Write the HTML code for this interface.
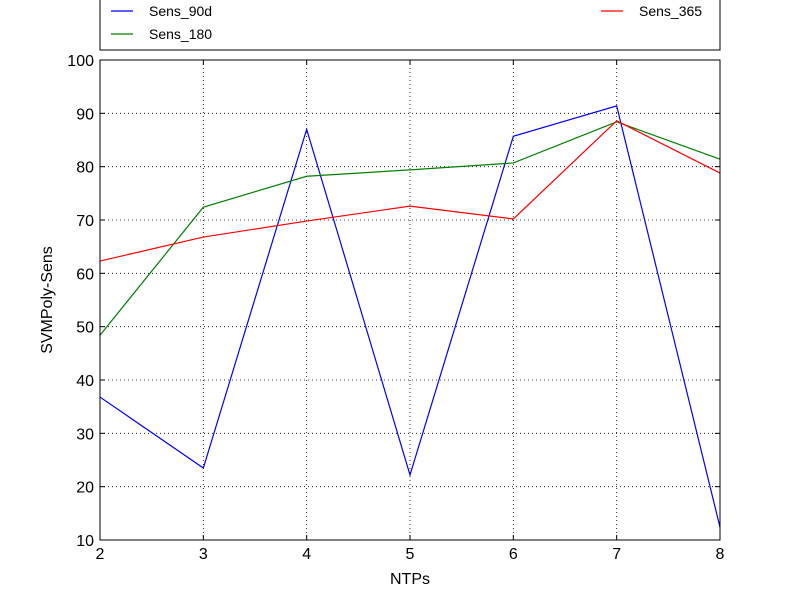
<!DOCTYPE html>
<html><head><meta charset="utf-8"><style>
body{margin:0;background:#fff;}
svg text{font-family:"Liberation Sans",sans-serif;}
</style></head><body>
<svg id="chart" width="800" height="600" xmlns="http://www.w3.org/2000/svg"></svg>
<script>
const categories=[2,3,4,5,6,7,8];
const sens90d=[36.8,23.5,87,22.2,85.7,91.4,12.4];
const sens180=[48.4,72.4,78.2,79.4,80.7,88.4,81.4];
const sens365=[62.3,66.8,69.8,72.6,70.2,88.6,78.8];
const yTicks=[10,20,30,40,50,60,70,80,90,100];
const seriesNames=["Sens_90d","Sens_180","Sens_365"];
const seriesColors=["#0000ff","#008000","#ff0000"];

const svg=document.getElementById('chart');
const NS="http://www.w3.org/2000/svg";
const L=100,R=720,T=60,B=540;
const xs=v=>L+(v-2)/(8-2)*(R-L);
const ys=v=>B-(v-10)/(100-10)*(B-T);
function mk(tag,attrs,parent){const e=document.createElementNS(NS,tag);for(const k in attrs)e.setAttribute(k,attrs[k]);(parent||svg).appendChild(e);return e;}

// grid
const grid=mk('g',{});


categories.forEach(c=>{mk('line',{x1:xs(c),x2:xs(c),y1:T,y2:B,stroke:'#000','stroke-dasharray':'1,3','stroke-width':0.8},grid);});
yTicks.forEach(t=>{mk('line',{x1:L,x2:R,y1:ys(t),y2:ys(t),stroke:'#000','stroke-dasharray':'1,3','stroke-width':0.8},grid);});

// series
const allSeries=[sens90d,sens180,sens365];
allSeries.forEach((s,i)=>{
  const p=mk('polyline',{points:s.map((v,j)=>xs(categories[j])+','+ys(v)).join(' '),fill:'none',stroke:seriesColors[i],'stroke-width':1.2});
  
  
});

// frame
const frame=mk('rect',{x:L,y:T,width:R-L,height:B-T,fill:'none',stroke:'#000','stroke-width':1});



// ticks & labels
categories.forEach(c=>{
  mk('line',{x1:xs(c),x2:xs(c),y1:B,y2:B-5,stroke:'#000'});
  mk('line',{x1:xs(c),x2:xs(c),y1:T,y2:T+5,stroke:'#000'});
  const t=mk('text',{x:xs(c),y:B+19,'text-anchor':'middle','font-size':16});
  t.textContent=c;
  
  
});
yTicks.forEach(v=>{
  mk('line',{x1:L,x2:L+5,y1:ys(v),y2:ys(v),stroke:'#000'});
  mk('line',{x1:R,x2:R-5,y1:ys(v),y2:ys(v),stroke:'#000'});
  const t=mk('text',{x:L-6,y:ys(v)+6,'text-anchor':'end','font-size':16});
  t.textContent=v;
  
  
});
const xt=mk('text',{x:410,y:584,'text-anchor':'middle','font-size':16});
xt.textContent='NTPs';


const yt=mk('text',{x:52,y:300,'text-anchor':'middle','font-size':16,transform:'rotate(-90 52 300)'});
yt.textContent='SVMPoly-Sens';



// legend
const lg=mk('g',{});


mk('rect',{x:100,y:-10,width:620,height:60,fill:'#fff',stroke:'#000','stroke-width':1},lg);
const legPos=[[111,11],[111,34],[601,11]];
seriesNames.forEach((n,i)=>{
  const g=mk('g',{},lg);
  
  
  mk('line',{x1:legPos[i][0],x2:legPos[i][0]+22,y1:legPos[i][1],y2:legPos[i][1],stroke:seriesColors[i],'stroke-width':1.2},g);
  const t=mk('text',{x:legPos[i][0]+38,y:legPos[i][1]+5,'font-size':14},g);
  t.textContent=n;
});
</script>
</body></html>
